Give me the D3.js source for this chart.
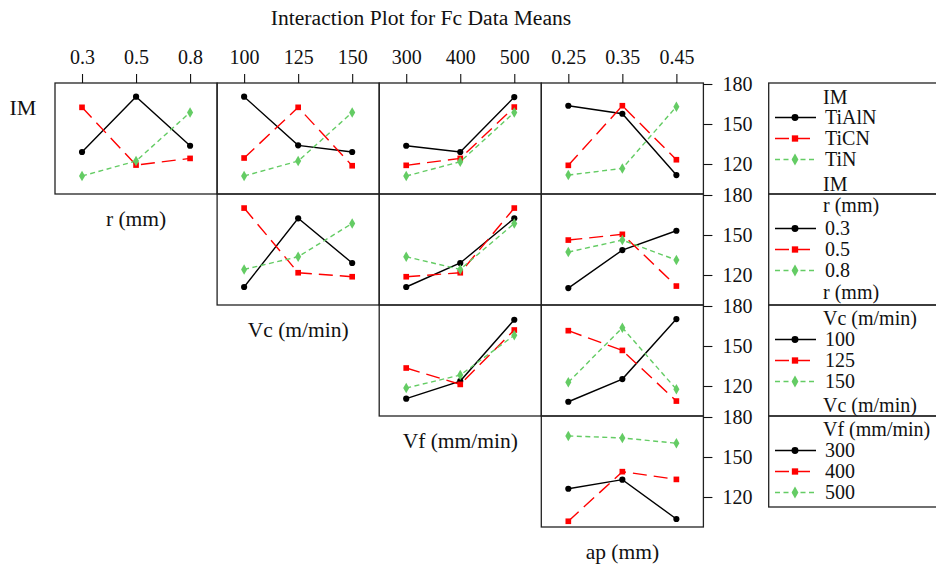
<!DOCTYPE html>
<html>
<head>
<meta charset="utf-8">
<script src="https://cdn.jsdelivr.net/npm/d3@7"></script>
<style>
    body { margin: 0; background: #fff; }
    svg text { font-family: "Liberation Serif", "Times New Roman", serif; fill: #111; }
</style>
</head>
<body>
<div id="chart"></div>
<script>
// factor levels
const imLevels = ["TiAlN", "TiCN", "TiN"];
const rLevels = ["0.3", "0.5", "0.8"];
const vcLevels = ["100", "125", "150"];
const vfLevels = ["300", "400", "500"];
const apLevels = ["0.25", "0.35", "0.45"];

const factorNames = ["IM", "r (mm)", "Vc (m/min)", "Vf (mm/min)", "ap (mm)"];
const yTicks = [120, 150, 180];

// means of Fc, one row per level of the trace factor
const imByR = [[129, 170.5, 133.7], [162.5, 119.2, 124.2], [111, 122.2, 158.7]];
const imByVc = [[170.5, 134, 129], [124.5, 162.5, 118.7], [111, 122.2, 158.7]];
const imByVf = [[133.7, 129, 170.2], [119, 124.2, 162.7], [111, 121.7, 158.7]];
const imByAp = [[163.7, 157.7, 111.7], [119, 163.7, 123.2], [111.7, 116.7, 163]];
const rByVc = [[111, 162.5, 129], [170.2, 121.7, 118.7], [124.2, 133.7, 158.7]];
const rByVf = [[111, 129, 162.5], [118.7, 121.7, 170.2], [133.7, 124.2, 158.7]];
const rByAp = [[110.2, 138.7, 153.2], [146.2, 150.5, 111.7], [137.2, 146.2, 131.2]];
const vcByVf = [[110.5, 123.7, 169.7], [133.5, 121.2, 162], [118.5, 128.2, 158]];
const vcByAp = [[108.2, 125.2, 170.2], [161.5, 146.7, 108.7], [122.8, 163.7, 117.5]];
const vfByAp = [[126.2, 133, 103.5], [101.8, 139, 133.2], [165.8, 164.3, 160.3]];

class InteractionPlotVis {
    constructor(parentElement) {
        this.parentElement = parentElement;

        this.width = 936;
        this.height = 565;
        this.left = 55;
        this.top = 83;
        this.cellW = 162.1;
        this.cellH = 111;

        this.traceLevels = [imLevels, rLevels, vcLevels, vfLevels];
        this.xLevels = [rLevels, vcLevels, vfLevels, apLevels];
        this.panels = [
            {row: 0, col: 0, values: imByR},
            {row: 0, col: 1, values: imByVc},
            {row: 0, col: 2, values: imByVf},
            {row: 0, col: 3, values: imByAp},
            {row: 1, col: 1, values: rByVc},
            {row: 1, col: 2, values: rByVf},
            {row: 1, col: 3, values: rByAp},
            {row: 2, col: 2, values: vcByVf},
            {row: 2, col: 3, values: vcByAp},
            {row: 3, col: 3, values: vfByAp}
        ];

        // black solid / red long dash / green short dash
        this.styles = [
            {color: "#000000", dash: null, shape: d3.symbolCircle, size: 30},
            {color: "#ff0000", dash: "14,7", shape: d3.symbolSquare, size: 32},
            {color: "#64cc64", dash: "5,3.5", shape: d3.symbolDiamond, size: 32}
        ];

        this.initVis();
    }

    initVis() {
        let vis = this;

        vis.svg = d3.select(vis.parentElement)
            .append("svg")
            .attr("width", vis.width)
            .attr("height", vis.height);

        vis.svg.append("text")
            .attr("x", 421)
            .attr("y", 25)
            .attr("text-anchor", "middle")
            .style("font-size", "21.6px")
            .text("Interaction Plot for Fc Data Means");

        vis.y = d3.scaleLinear().domain([97.5, 180.75]).range([vis.cellH, 0]);

        vis.panels.forEach(p => vis.drawPanel(p));

        // top axis over the first row
        vis.xLevels.forEach((levels, col) => {
            let x = vis.xScale(col);
            let g = vis.svg.append("g")
                .attr("transform", `translate(0,${vis.top})`)
                .call(d3.axisTop(x).tickSize(9).tickPadding(10));
            vis.styleAxis(g);
        });

        // right axis for every row
        vis.traceLevels.forEach((levels, row) => {
            let g = vis.svg.append("g")
                .attr("transform", `translate(${vis.left + 4 * vis.cellW},${vis.top + row * vis.cellH})`)
                .call(d3.axisRight(vis.y).tickValues(yTicks).tickSize(9).tickPadding(10));
            vis.styleAxis(g);
        });

        // factor labels on the diagonal
        vis.svg.append("text")
            .attr("x", 23)
            .attr("y", vis.top + 31.5)
            .attr("text-anchor", "middle")
            .style("font-size", "22px")
            .text(factorNames[0]);

        for (let i = 1; i < factorNames.length; i++) {
            vis.svg.append("text")
                .attr("x", vis.left + (i - 1) * vis.cellW + vis.cellW / 2)
                .attr("y", vis.top + i * vis.cellH + 31.5)
                .attr("text-anchor", "middle")
                .style("font-size", "21.5px")
                .text(factorNames[i]);
        }

        vis.drawLegends();
    }

    xScale(col) {
        let vis = this;
        let x0 = vis.left + col * vis.cellW;
        return d3.scalePoint()
            .domain(vis.xLevels[col])
            .range([x0, x0 + vis.cellW])
            .padding(0.5);
    }

    styleAxis(g) {
        g.select(".domain").remove();
        g.selectAll(".tick line").attr("stroke", "#111").attr("stroke-width", 1.1);
        g.selectAll(".tick text")
            .style("font-family", "'Liberation Serif', serif")
            .style("font-size", "20px")
            .attr("fill", "#111");
    }

    drawPanel(p) {
        let vis = this;
        let x = vis.xScale(p.col);
        let y0 = vis.top + p.row * vis.cellH;
        let levels = vis.xLevels[p.col];

        let g = vis.svg.append("g").attr("transform", `translate(0,${y0})`);

        g.append("rect")
            .attr("x", vis.left + p.col * vis.cellW)
            .attr("y", 0)
            .attr("width", vis.cellW)
            .attr("height", vis.cellH)
            .attr("fill", "none")
            .attr("stroke", "#222")
            .attr("stroke-width", 1.3);

        let line = d3.line()
            .x((d, i) => x(levels[i]))
            .y(d => vis.y(d));

        p.values.forEach((series, s) => {
            let st = vis.styles[s];
            g.append("path")
                .attr("d", line(series))
                .attr("fill", "none")
                .attr("stroke", st.color)
                .attr("stroke-width", 1.4)
                .attr("stroke-dasharray", st.dash);

            g.selectAll(null)
                .data(series)
                .enter()
                .append("path")
                .attr("d", d3.symbol().type(st.shape).size(st.size))
                .attr("transform", (d, i) => `translate(${x(levels[i])},${vis.y(d)})`)
                .attr("fill", st.color);
        });
    }

    drawLegends() {
        let vis = this;
        let titles = ["IM", "r (mm)", "Vc (m/min)", "Vf (mm/min)"];
        let boxTops = [83, 194, 305, 416];
        let boxHeights = [111, 111, 111, 91];
        let titleOffsets = [14, 11, 13.5, 13.5];
        let bottomOffsets = [101, 98, 100, null];
        let itemOffsets = [34.5, 55.5, 76.5];

        titles.forEach((title, row) => {
            let top = boxTops[row];
            let g = vis.svg.append("g").attr("transform", `translate(0,${top})`);

            // box runs off the right edge of the picture
            g.append("rect")
                .attr("x", 768.7)
                .attr("y", 0)
                .attr("width", 945 - 768.7)
                .attr("height", boxHeights[row])
                .attr("fill", "none")
                .attr("stroke", "#222")
                .attr("stroke-width", 1.3);

            g.append("text")
                .attr("x", 823)
                .attr("y", titleOffsets[row] + 6.5)
                .style("font-size", "20px")
                .text(title);

            vis.traceLevels[row].forEach((lev, s) => {
                let st = vis.styles[s];
                let cy = itemOffsets[s];
                g.append("line")
                    .attr("x1", 775).attr("x2", 816)
                    .attr("y1", cy).attr("y2", cy)
                    .attr("stroke", st.color)
                    .attr("stroke-width", 1.4)
                    .attr("stroke-dasharray", st.dash);
                g.append("path")
                    .attr("d", d3.symbol().type(st.shape).size(st.size + 8))
                    .attr("transform", `translate(795,${cy})`)
                    .attr("fill", st.color);
                g.append("text")
                    .attr("x", 825)
                    .attr("y", cy + 6.8)
                    .style("font-size", "20px")
                    .text(lev);
            });

            if (bottomOffsets[row] !== null) {
                g.append("text")
                    .attr("x", 823)
                    .attr("y", bottomOffsets[row] + 6.5)
                    .style("font-size", "20px")
                    .text(title);
            }
        });
    }
}

let interactionVis = new InteractionPlotVis("#chart");
</script>
</body>
</html>
